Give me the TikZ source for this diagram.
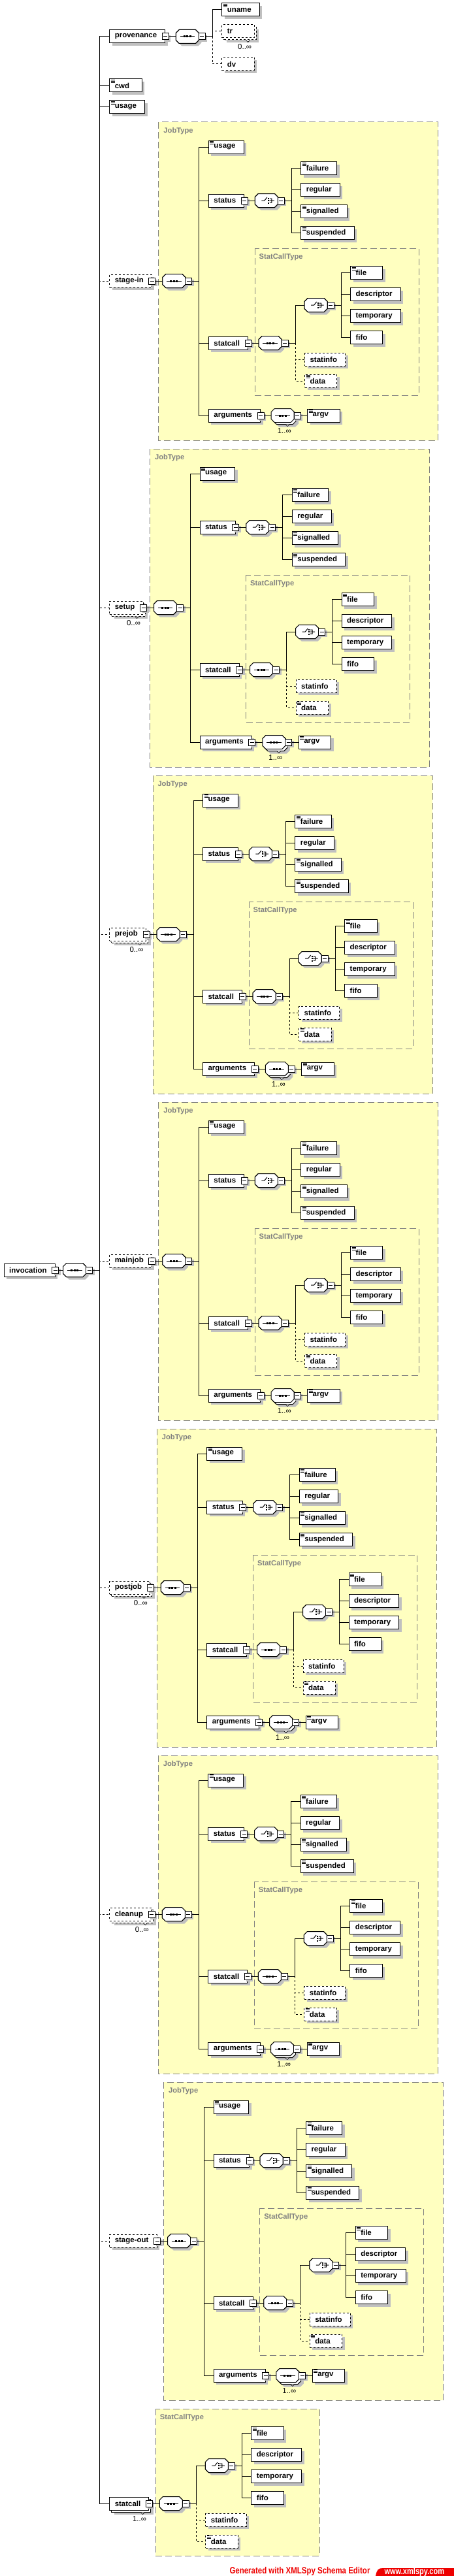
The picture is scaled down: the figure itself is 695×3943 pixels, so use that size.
\documentclass[tikz,border=0pt]{standalone}
\usepackage{fontspec}
\newfontfamily\xsfont{Liberation Sans}
\usetikzlibrary{shadows}

\definecolor{typefill}{RGB}{255,255,192}
\definecolor{typeline}{RGB}{128,128,128}
\definecolor{shadowgray}{RGB}{192,192,192}
\definecolor{spyred}{RGB}{238,0,0}

\newsavebox\eltbox
\newcommand\eltext[1]{\sbox\eltbox{#1}\ifdim\wd\eltbox<21.5pt\makebox[21.5pt][l]{#1}\else\usebox\eltbox\fi\hspace*{3.5pt}}

\tikzset{
  shadowed/.style={drop shadow={shadow xshift=#1, shadow yshift=-#1, draw=none, fill=shadowgray, opacity=1}},
  elem/.style={draw, fill=white, anchor=west, minimum height=15pt, inner xsep=6pt, inner ysep=0pt, shadowed=3pt,
    font=\xsfont\bfseries\fontsize{8.6}{10}\selectfont},
  opt/.style={dash pattern=on 2.25pt off 2.25pt},
  optline/.style={dash pattern=on 2.25pt off 2.25pt},
  txt/.style={path picture={\pgftransformreset
    \foreach \k in {1pt,2.5pt,4pt}
      \draw[solid, line width=0.5pt] ([xshift=1.5pt,yshift=-\k]path picture bounding box.north west) -- ++(4.5pt,0pt);}},
  many/.style={shadowed=5.25pt, copy shadow={shadow xshift=2.25pt, shadow yshift=-2.25pt, draw=black, fill=white}},
  omany/.style={shadowed=5.25pt, copy shadow={shadow xshift=2.25pt, shadow yshift=-2.25pt, draw=black, fill=white, opt}},
  minus/.style={draw, fill=white, solid, minimum size=7.5pt, inner sep=0pt, shadowed=2.25pt,
    path picture={\pgftransformreset
      \draw ([xshift=1.5pt]path picture bounding box.west) -- ([xshift=-1.5pt]path picture bounding box.east);}},
  comp/.style={rectangle, anchor=west, minimum width=25.5pt, minimum height=15pt, inner sep=0pt},
  typebox/.style={draw=typeline, fill=typefill, dash pattern=on 7.5pt off 3.75pt},
  typelabel/.style={anchor=west, inner sep=0pt, text=typeline, font=\xsfont\bfseries\fontsize{8.4}{10}\selectfont},
  mult/.style={inner sep=0pt, font=\xsfont\fontsize{8.6}{10}\selectfont},
}

% element box: [styles]{name}{x,y}{text}
\newcommand\elem[4][]{\node[elem,#1] (#2) at (#3) {\eltext{#4}};}
% octagon outline round node #1, moved by #2
\newcommand\octpath[2]{([shift={(5+#2,#2)}]#1.north west) -- ([shift={(-5+#2,#2)}]#1.north east)
  -- ([shift={(#2,5+#2)}]#1.north east) -- ([shift={(#2,-5+#2)}]#1.south east)
  -- ([shift={(-5+#2,#2)}]#1.south east) -- ([shift={(5+#2,#2)}]#1.south west)
  -- ([shift={(#2,-5+#2)}]#1.south west) -- ([shift={(#2,5+#2)}]#1.north west) -- cycle}
\newcommand\seqglyph[1]{%
  \draw ([xshift=-8.5pt]#1.center) -- ([xshift=8.5pt]#1.center);
  \foreach \k in {-4.5,0,4.5} \fill ([shift={(\k-1.5,-1.5)}]#1.center) rectangle ++(3,3);}
\newcommand\choiceglyph[1]{%
  \draw ([shift={(-7.5,0)}]#1.center) -- ([shift={(-3,0)}]#1.center) -- ([shift={(1,-5)}]#1.center)
    ([shift={(5,-3)}]#1.center) -- ([shift={(8,-3)}]#1.center) -- ([shift={(8,3)}]#1.center) -- ([shift={(5,3)}]#1.center)
    ([shift={(4.5,0)}]#1.center) -- ([shift={(12,0)}]#1.center);
  \foreach \k in {-3.5,0,3.5} \fill ([shift={(2,\k-1)}]#1.center) rectangle ++(2,2);}
% compositor: [copy offset]{name}{seq|choice}{x,y}, with minus box and branch point
\newcommand\octo[4][0]{%
  \node[comp] (#2) at (#4) {};
  \fill[shadowgray] \octpath{#2}{#1+4};
  \filldraw[fill=white] \octpath{#2}{#1};
  \filldraw[fill=white] \octpath{#2}{0};
  \csname #3glyph\endcsname{#2}
  \node[minus] (#2m) at ([xshift=3.75pt]#2.east) {};
  \coordinate (#2b) at ([xshift=12pt]#2m.center);
  \draw (#2m) -- (#2b);}
% multiplicity tag
\newcommand\mult[2]{%
  \draw[fill=white, line width=0.5pt] ([shift={(-13,3)}]#1.south east) -- ++(3,3) -- ++(3,-3);
  \node[mult] (#1x) at ([shift={(-15,13.5)}]#1.south east) {#2};}

\newcommand\statcalltype[1]{%
  \node[minus] (#1m) at (#1.east) {};
  \begin{scope}[shift={(#1.east)}]
    \draw[typebox] (10,-145) rectangle (261,80);
    \node[typelabel] (#1t) at (16,-131) {StatCallType};
    \octo{#1o}{seq}{16,0}
    \octo{#1h}{choice}{86,-58}
    \elem[opt]{#1i}{86,25}{statinfo}
    \elem[opt,txt]{#1d}{86,58}{data}
    \elem[txt]{#1h1}{156,-107.5}{file}
    \elem{#1h2}{156,-74.5}{descriptor}
    \elem{#1h3}{156,-41.5}{temporary}
    \elem{#1h4}{156,-8.5}{fifo}
    \draw (#1m) -- (#1o);
    \draw[optline] (#1ob) |- (#1i) (#1ob) |- (#1d);
    \draw (#1ob) |- (#1h);
    \foreach \k in {1,...,4} \draw (#1hb) |- (#1h\k);
  \end{scope}}

\newcommand\jobtype[1]{%
  \node[minus] (#1m) at (#1.east) {};
  \begin{scope}[shift={(#1.east)}]
    \draw[typebox] (10,-243) rectangle (438,244);
    \node[typelabel] (#1t) at (17,-229) {JobType};
    \octo{#1o}{seq}{16,0}
    \elem[txt]{#1u}{86,-205}{usage}
    \elem{#1s}{86,-123}{status}
    \elem{#1c}{86,95}{statcall}
    \elem{#1a}{86,206}{arguments}
    \draw (#1m) -- (#1o);
    \foreach \k in {u,s,c,a} \draw (#1ob) |- (#1\k);
  \end{scope}
  \node[minus] (#1sm) at (#1s.east) {};
  \begin{scope}[shift={(#1s.east)}]
    \octo{#1so}{choice}{16,0}
    \elem[txt]{#1s1}{86,-49.5}{failure}
    \elem{#1s2}{86,-16.5}{regular}
    \elem[txt]{#1s3}{86,16.5}{signalled}
    \elem[txt]{#1s4}{86,49.5}{suspended}
    \draw (#1sm) -- (#1so);
    \foreach \k in {1,...,4} \draw (#1sob) |- (#1s\k);
  \end{scope}
  \statcalltype{#1c}
  \node[minus] (#1am) at (#1a.east) {};
  \begin{scope}[shift={(#1a.east)}]
    \octo[3]{#1ao}{seq}{16,0}
    \elem[txt]{#1av}{71,0}{argv}
    \draw (#1am) -- (#1ao) (#1aom) -- (#1av);
  \end{scope}
  \mult{#1ao}{1..∞}}

\begin{document}
\begin{tikzpicture}[x=0.75pt,y=0.75pt,yscale=-1,xscale=1,line width=0.75pt]
\useasboundingbox (0,0) rectangle (695,3943);

% root element
\elem{inv}{5.7,1944}{invocation}
\node[minus] (invm) at (inv.east) {};
\octo{invo}{seq}{96.7,1944}
\draw (invm) -- (invo);

% children of invocation
\elem{prov}{167.3,56}{provenance}
\elem[txt]{cwd}{167.3,131}{cwd}
\elem[txt]{use}{167.3,164}{usage}
\elem[opt]{si}{167.3,430}{stage-in}
\elem[opt,omany]{su}{167.3,930}{setup}
\elem[opt,omany]{pre}{167.3,1430}{prejob}
\elem[opt]{mj}{167.3,1930}{mainjob}
\elem[opt,omany]{post}{167.3,2430}{postjob}
\elem[opt,omany]{cl}{167.3,2930}{cleanup}
\elem[opt]{so}{167.3,3430}{stage-out}
\elem[many]{sc}{167.3,3832}{statcall}

% provenance
\node[minus] (provm) at (prov.east) {};
\begin{scope}[shift={(prov.east)}]
  \octo{provo}{seq}{16,0}
  \elem[txt]{un}{86,-41}{uname}
  \elem[opt,omany]{tr}{86,-8}{tr}
  \elem[opt]{dv}{86,42}{dv}
  \draw (provm) -- (provo);
  \draw[optline] (provob) |- (tr) (provob) |- (dv);
  \draw (provob) |- (un);
\end{scope}
\mult{tr}{0..∞}

% job blocks
\jobtype{si}
\jobtype{su}
\jobtype{pre}
\jobtype{mj}
\jobtype{post}
\jobtype{cl}
\jobtype{so}
\foreach \k in {su,pre,post,cl} {\mult{\k}{0..∞}}

% last statcall
\statcalltype{sc}
\mult{sc}{1..∞}

% trunk
\foreach \k in {si,su,pre,mj,post,cl,so} \draw[optline] (invob) |- (\k);
\foreach \k in {prov,cwd,use,sc} \draw (invob) |- (\k);

% footer
\node[anchor=west, inner sep=0pt, text=spyred, font=\xsfont\bfseries\fontsize{10.5}{12}\selectfont] (gen) at (351,3936) {\scalebox{0.82}[1]{Generated with XMLSpy Schema Editor}};
\fill[spyred] (575,3943) .. controls (577,3933) and (579,3931) .. (586,3931) -- (695,3931) -- (695,3943) -- cycle;
\node[anchor=west, inner sep=0pt, text=white, font=\xsfont\bfseries\fontsize{10.5}{12}\selectfont] (www) at (588,3937) {\scalebox{0.79}[1]{www.xmlspy.com}};

\end{tikzpicture}
\end{document}
